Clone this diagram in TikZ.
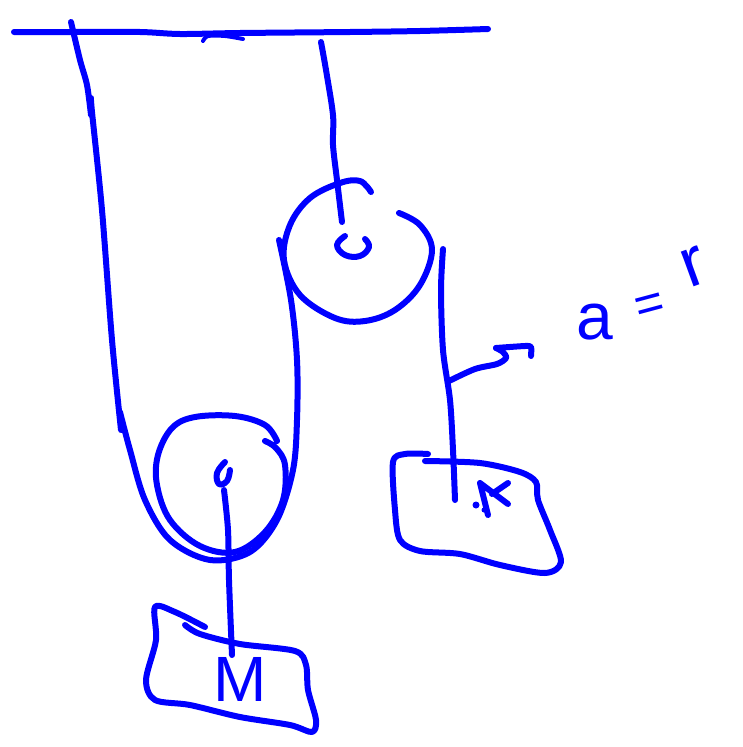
\documentclass[tikz,border=0pt]{standalone}
\usepackage{fontspec}
\setmainfont{Liberation Sans}
\definecolor{ink}{RGB}{0,0,255}
\tikzset{
  ink stroke/.style={draw=ink,line width=6pt,line cap=round,line join=round},
  hand text/.style={text=ink,inner sep=0pt,outer sep=0pt}
}
\begin{document}
\begin{tikzpicture}[x=1pt,y=-1pt]
\useasboundingbox (0,0) rectangle (742,747);
% ceiling
\draw[ink stroke] plot[smooth,tension=0.5] coordinates {(14,32) (70,32) (140,32) (180,34) (240,33) (350,32) (420,31) (488,29)};
\draw[ink stroke,line width=4pt] plot[smooth,tension=0.5] coordinates {(203,41) (208,36) (225,36) (243,39)};
% left rope, round the lower pulley, up to the upper pulley
\draw[ink stroke] plot[smooth,tension=0.5] coordinates {(71,22) (80,60) (87,85) (91,115)};
\draw[ink stroke] plot[smooth,tension=0.5] coordinates {(91,98) (92,112) (102,210) (112,340) (121,430)};
\draw[ink stroke] plot[smooth,tension=0.55] coordinates {(120,412) (130,450) (145,500) (170,540) (210,560) (250,552) (277,520) (293,470) (297,420) (297,360) (291,300) (279,240)};
% lower pulley
\draw[ink stroke] plot[smooth,tension=0.6] coordinates {(277,441) (265,425) (235,416) (195,417) (172,428) (158,455) (157,485) (170,520) (200,546) (235,552) (265,532) (283,500) (285,465) (276,448) (265,441)};
% axle of the lower pulley
\draw[ink stroke] plot[smooth,tension=0.7] coordinates {(225,462) (217,473) (219,484) (227,481) (230,470)};
% hanger and block M
\draw[ink stroke] plot[smooth,tension=0.5] coordinates {(224,490) (228,530) (229,580) (232,655)};
\draw[ink stroke] plot[smooth,tension=0.5] coordinates {(205,627) (175,612) (155,607) (156,640) (146,680) (155,700) (190,705) (240,717) (290,725) (312,732) (316,720) (308,690) (306,665) (295,651) (240,644) (200,634) (185,625)};
\node[hand text,font=\fontsize{64}{64}\selectfont] (bigm) at (240,679) {M};
% upper pulley
\draw[ink stroke] plot[smooth,tension=0.6] coordinates {(371,192) (360,181) (340,183) (310,198) (290,225) (284,260) (300,295) (335,318) (365,321) (395,310) (420,285) (432,250) (420,225) (399,213)};
\draw[ink stroke] plot[smooth,tension=0.7] coordinates {(345,236) (337,245) (345,255) (360,256) (369,247) (365,239)};
% hanger of the upper pulley
\draw[ink stroke] plot[smooth,tension=0.5] coordinates {(321,42) (326,70) (333,115) (333,145) (337,180) (342,222)};
% right rope and block
\draw[ink stroke] plot[smooth,tension=0.5] coordinates {(443,249) (441,290) (443,350) (450,400) (453,450) (455,500)};
\draw[ink stroke] plot[smooth,tension=0.5] coordinates {(449,381) (475,369) (497,364) (506,358) (503,352) (496,348)};
\draw[ink stroke] plot[smooth,tension=0.4] coordinates {(496,348) (525,346) (531,347) (531,356)};
\draw[ink stroke] plot[smooth,tension=0.5] coordinates {(428,454) (405,454) (393,462) (395,510) (400,540) (420,551) (460,554) (500,565) (545,573) (561,562) (550,530) (538,500) (536,482) (520,472) (480,463) (425,461)};
% mark on the small block
\draw[ink stroke] (488,515) -- (480,483) -- (508,504);
\draw[ink stroke] (492,494) -- (508,483);
\fill[ink] (476,505) circle (3.5);
\fill[ink] (484,510) circle (2.5);
% formula
\node[hand text,font=\fontsize{66}{66}\selectfont] (fa) at (595,322) {a};
\node[hand text,rotate=15,font=\fontsize{50}{50}\selectfont] (feq) at (650,308) {=};
\node[hand text,rotate=20,font=\fontsize{70}{70}\selectfont] (fr) at (694,267) {r};
\end{tikzpicture}
\end{document}
